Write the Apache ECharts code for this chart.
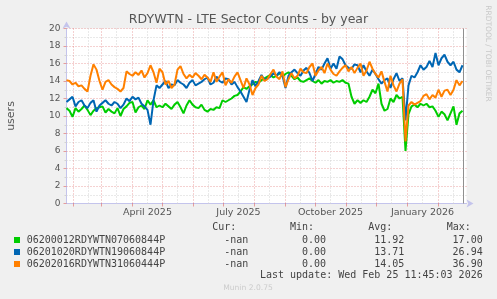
<!DOCTYPE html>
<html>
<head>
<meta charset="utf-8">
<script src="https://cdn.jsdelivr.net/npm/echarts@6/dist/echarts.min.js"></script>
<style>
  html, body { margin: 0; padding: 0; background: #f0f0f0; }
  #chart { width: 497px; height: 299px; }
</style>
</head>
<body>
<div id="chart"></div>
<script>
// x = days since 2025-01-25, one sample every 3 days
const stepDays = 3

const green = [
  10.9, 10.6, 9.9, 10.9, 10.5, 10.8, 11.2, 10.7, 10.1, 10.6,
  10.9, 11.0, 11.1, 10.4, 10.8, 10.5, 10.3, 10.9, 10.0, 10.8,
  11.1, 11.5, 11.6, 10.4, 11.0, 11.2, 10.8, 11.8, 11.3, 11.8,
  11.0, 11.2, 11.0, 11.4, 11.1, 10.8, 11.3, 11.6, 11.0, 10.3,
  11.2, 11.8, 11.3, 11.0, 10.9, 11.3, 10.7, 10.5, 10.8, 10.7,
  11.0, 10.9, 11.8, 11.6, 11.8, 12.0, 12.3, 12.4, 12.8, 13.3,
  13.1, 13.4, 13.6, 13.9, 13.8, 14.1, 14.3, 14.5, 14.7, 14.4,
  14.6, 14.9, 14.5, 14.8, 15.0, 14.6, 14.2, 14.4, 14.0, 13.9,
  14.1, 14.3, 14.0, 13.8, 14.1, 13.7, 14.0, 13.9, 14.1, 13.8,
  14.0, 13.9, 14.1, 13.8, 13.7, 12.2, 11.4, 11.8, 11.5, 11.8,
  11.6, 12.2, 13.0, 12.6, 13.7, 11.4, 10.6, 10.8, 12.0, 11.6,
  12.4, 12.0, 12.2, 6.0, 10.2, 11.1, 11.3, 11.0, 11.4, 11.2,
  11.4, 11.0, 11.1, 10.6, 9.9, 10.5, 10.2, 9.5, 10.3, 11.1,
  9.0, 10.3, 10.6
]

const blue = [
  11.6, 11.9, 12.2, 11.1, 11.6, 11.8, 11.2, 10.9, 11.5, 11.8,
  10.5, 11.2, 11.5, 11.8, 11.4, 11.2, 11.6, 11.4, 10.9, 11.3,
  12.0, 11.7, 12.2, 11.9, 12.1, 11.4, 11.1, 10.7, 9.0, 11.8,
  13.5, 13.2, 13.6, 14.0, 13.2, 13.6, 13.5, 14.1, 13.8, 13.6,
  13.2, 13.8, 14.1, 13.5, 13.7, 13.9, 14.2, 14.4, 13.6, 13.8,
  14.5, 14.0, 13.8, 14.3, 14.2, 13.6, 13.9, 13.3, 12.8, 12.2,
  11.6, 13.0, 14.1, 13.4, 14.0, 14.7, 14.1, 14.3, 14.5, 14.9,
  14.6, 15.0, 14.6, 13.2, 14.6, 15.0, 15.3, 14.9, 14.6, 15.2,
  15.5, 14.9, 14.0, 14.8, 15.6, 15.3, 16.0, 16.6, 15.4, 16.0,
  15.4, 16.8, 16.5, 15.8, 15.5, 15.4, 15.9, 15.8, 15.0, 15.8,
  15.1, 14.6, 15.3, 14.8, 14.2, 13.7, 14.1, 14.3, 13.2, 14.2,
  14.9, 14.0, 14.3, 9.5, 13.5, 14.6, 14.4, 15.0, 15.8, 15.3,
  15.6, 16.3, 15.6, 17.2, 15.8, 16.6, 17.0, 16.2, 15.8, 16.2,
  15.3, 15.0, 15.8
]

const orange = [
  14.1, 14.0, 13.6, 13.8, 13.4, 13.5, 13.1, 12.8, 14.6, 15.9,
  15.3, 14.0, 13.0, 13.9, 14.1, 13.6, 13.3, 13.1, 12.8, 13.2,
  15.1, 14.8, 14.6, 15.0, 14.7, 15.2, 14.4, 14.9, 15.8, 15.0,
  13.8, 15.4, 15.0, 13.6, 14.0, 13.2, 13.6, 15.3, 15.7, 14.8,
  14.3, 14.7, 14.4, 14.9, 14.6, 14.2, 14.7, 14.4, 13.9, 15.0,
  13.9, 14.5, 15.0, 13.5, 14.2, 13.8, 14.5, 15.0, 14.1, 13.2,
  14.3, 13.6, 12.4, 13.2, 13.6, 14.6, 14.0, 14.2, 14.8, 15.3,
  14.5, 14.2, 15.1, 13.3, 14.2, 14.9, 14.3, 14.6, 15.4, 15.0,
  14.9, 15.6, 16.0, 14.6, 15.2, 15.6, 14.9, 16.0, 15.3, 14.8,
  14.6, 15.1, 15.5, 15.8, 15.1, 15.6, 14.9, 15.5, 16.0, 14.6,
  15.2, 16.2, 15.4, 14.8, 14.4, 15.1, 13.9, 12.8, 14.6, 13.5,
  12.8, 13.7, 14.2, 7.1, 11.2, 11.6, 11.3, 11.5, 11.7, 12.3,
  12.5, 11.9, 12.4, 12.1, 13.0, 12.2, 12.9, 13.0, 12.4, 13.0,
  14.1, 13.5, 14.0
]

const seriesNames = ['06200012RDYWTN07060844P', '06201020RDYWTN19060844P', '06202016RDYWTN31060444P']
const seriesColors = ['#00cc00', '#0066b3', '#ff8000']
const curVals = ['-nan', '-nan', '-nan']
const minVals = ['0.00', '0.00', '0.00']
const avgVals = ['11.92', '13.71', '14.05']
const maxVals = ['17.00', '26.94', '36.90']

// grid positions, in days since 2025-01-25
const monthStartDays = [7, 35, 66, 96, 127, 157, 188, 219, 249, 280, 310, 341, 372]
const midMonthDays = [22, 50, 81, 111, 142, 172, 203, 234, 264, 295, 325, 356, 387]
const labelDays = [81, 172, 264, 356]
const labelTexts = ['April 2025', 'July 2025', 'October 2025', 'January 2026']
const lastUpdateDay = 396.5

const axisColor = '#c4c4ec'
const majorGrid = 'rgba(220, 90, 90, 0.55)'
const minorGrid = '#d2d2d2'
const sans = 'DejaVu Sans'
const mono = 'DejaVu Sans Mono'

const toPoints = arr => arr.map((v, i) => [i * stepDays, v])

const chart = echarts.init(document.getElementById('chart'), null, { renderer: 'canvas' })

const vline = (d, color, type) => ({
  xAxis: d,
  lineStyle: { color: color, type: type, width: 1 }
})

const lineSeries = [green, blue, orange].map((arr, i) => ({
  name: seriesNames[i],
  type: 'line',
  data: toPoints(arr),
  showSymbol: false,
  symbol: 'none',
  lineStyle: { width: 2, color: seriesColors[i] },
  itemStyle: { color: seriesColors[i] },
  z: 3 + i
}))

// legend block under the plot
const legendEls = []
const text = (x, y, str, opts) => ({
  type: 'text',
  x: x,
  y: y,
  silent: true,
  style: Object.assign({
    text: str,
    font: '10px ' + mono,
    fill: '#444',
    align: 'left',
    textAlign: 'left',
    verticalAlign: 'middle',
    textVerticalAlign: 'middle'
  }, opts || {})
})
const right = { align: 'right', textAlign: 'right' }

legendEls.push(text(212.3, 227, 'Cur:'))
legendEls.push(text(290, 227, 'Min:'))
legendEls.push(text(368.3, 227, 'Avg:'))
legendEls.push(text(446.7, 227, 'Max:'))
const rowY = [240, 252, 264]
seriesNames.forEach((name, i) => {
  legendEls.push({
    type: 'rect',
    silent: true,
    shape: { x: 14, y: rowY[i] - 3, width: 6, height: 6 },
    style: { fill: seriesColors[i] }
  })
  legendEls.push(text(26.7, rowY[i], name))
  legendEls.push(text(248.3, rowY[i], curVals[i], right))
  legendEls.push(text(326, rowY[i], minVals[i], right))
  legendEls.push(text(404.3, rowY[i], avgVals[i], right))
  legendEls.push(text(482.7, rowY[i], maxVals[i], right))
})
legendEls.push(text(482.7, 275.3, 'Last update: Wed Feb 25 11:45:03 2026', right))

const option = {
  animation: false,
  backgroundColor: '#f0f0f0',
  grid: {
    left: 66.5,
    top: 28.5,
    width: 400,
    height: 175,
    show: true,
    backgroundColor: '#ffffff',
    borderWidth: 0
  },
  xAxis: {
    type: 'value',
    min: 0,
    max: 400,
    axisLine: {
      show: true,
      lineStyle: { color: axisColor, width: 1 },
      symbol: ['none', 'arrow'],
      symbolSize: [6, 7],
      symbolOffset: [0, 7]
    },
    axisTick: {
      show: true,
      customValues: monthStartDays,
      length: 3,
      lineStyle: { color: majorGrid }
    },
    axisLabel: {
      customValues: labelDays,
      formatter: v => labelTexts[labelDays.indexOf(v)] || '',
      color: '#555',
      fontFamily: sans,
      fontSize: 9.5,
      margin: 4
    },
    splitLine: { show: false }
  },
  yAxis: {
    type: 'value',
    min: 0,
    max: 20,
    interval: 2,
    axisLine: {
      show: true,
      lineStyle: { color: axisColor, width: 1 },
      symbol: ['none', 'arrow'],
      symbolSize: [6, 7],
      symbolOffset: [0, 7]
    },
    axisTick: { show: true, length: 3, lineStyle: { color: majorGrid } },
    minorTick: { show: true, splitNumber: 2, length: 2, lineStyle: { color: minorGrid } },
    axisLabel: {
      color: '#555',
      fontFamily: sans,
      fontSize: 9,
      margin: 6
    },
    splitLine: { show: true, lineStyle: { color: majorGrid, type: [1, 2], width: 1 } },
    minorSplitLine: { show: true, lineStyle: { color: minorGrid, type: [1, 2], width: 1 } }
  },
  series: [
    {
      type: 'line',
      data: [],
      silent: true,
      z: 1,
      markLine: {
        silent: true,
        z: 1,
        symbol: 'none',
        label: { show: false },
        animation: false,
        data: midMonthDays.map(d => vline(d, minorGrid, [1, 2]))
          .concat(monthStartDays.map(d => vline(d, majorGrid, [1, 2])))
          .concat([vline(lastUpdateDay, '#909090', 'solid')])
      }
    }
  ].concat(lineSeries),
  graphic: [
    {
      type: 'text',
      x: 248.5,
      y: 20,
      silent: true,
      style: {
        text: 'RDYWTN - LTE Sector Counts - by year',
        font: '12.5px ' + sans,
        fill: '#555',
        align: 'center', textAlign: 'center',
        verticalAlign: 'middle', textVerticalAlign: 'middle'
      }
    },
    {
      type: 'text',
      x: 11,
      y: 116,
      rotation: Math.PI / 2,
      silent: true,
      style: {
        text: 'users',
        font: '11px ' + sans,
        fill: '#555',
        align: 'center', textAlign: 'center',
        verticalAlign: 'middle', textVerticalAlign: 'middle'
      }
    },
    {
      type: 'text',
      x: 487.5,
      y: 53.5,
      rotation: -Math.PI / 2,
      silent: true,
      style: {
        text: 'RRDTOOL / TOBI OETIKER',
        font: '7.5px ' + sans,
        fill: '#c8c8c8',
        align: 'center', textAlign: 'center',
        verticalAlign: 'middle', textVerticalAlign: 'middle'
      }
    },
    {
      type: 'text',
      x: 248,
      y: 288.3,
      silent: true,
      style: {
        text: 'Munin 2.0.75',
        font: '7.6px ' + sans,
        fill: '#cccccc',
        align: 'center', textAlign: 'center',
        verticalAlign: 'middle', textVerticalAlign: 'middle'
      }
    }
  ].concat(legendEls)
}

chart.setOption(option)
</script>
</body>
</html>
